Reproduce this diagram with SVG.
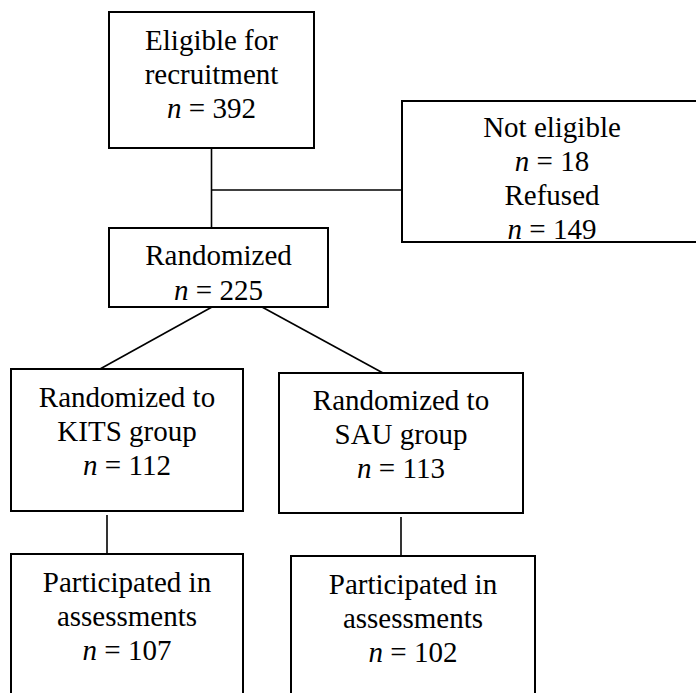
<svg xmlns="http://www.w3.org/2000/svg" width="696" height="693" viewBox="0 0 696 693">
<rect width="696" height="693" fill="#fff"/>
<g id="connectors" fill="none" stroke="#000" stroke-width="1.6">
<line x1="211.5" y1="148" x2="211.5" y2="228"/>
<line x1="211.5" y1="190" x2="402" y2="190"/>
<line x1="212" y1="307" x2="100" y2="369"/>
<line x1="262" y1="307" x2="383" y2="373"/>
<line x1="107" y1="515" x2="107" y2="554"/>
<line x1="401" y1="517" x2="401" y2="556"/>
</g>
<g id="eligible">
<rect x="109" y="12" width="205" height="136" fill="#fff" stroke="#000" stroke-width="2"/>
<text x="211.5" y="50" font-family="'Liberation Serif'" font-size="29" text-anchor="middle">Eligible for</text>
<text x="211.5" y="84" font-family="'Liberation Serif'" font-size="29" text-anchor="middle">recruitment</text>
<text x="211.5" y="118" font-family="'Liberation Serif'" font-size="29" text-anchor="middle"><tspan font-style="italic">n</tspan> = 392</text>
</g>
<g id="excluded">
<rect x="402" y="101" width="300" height="141" fill="#fff" stroke="#000" stroke-width="2"/>
<text x="552" y="137" font-family="'Liberation Serif'" font-size="29" text-anchor="middle">Not eligible</text>
<text x="552" y="171" font-family="'Liberation Serif'" font-size="29" text-anchor="middle"><tspan font-style="italic">n</tspan> = 18</text>
<text x="552" y="205" font-family="'Liberation Serif'" font-size="29" text-anchor="middle">Refused</text>
<text x="552" y="239" font-family="'Liberation Serif'" font-size="29" text-anchor="middle"><tspan font-style="italic">n</tspan> = 149</text>
</g>
<g id="randomized">
<rect x="109" y="228" width="219" height="79" fill="#fff" stroke="#000" stroke-width="2"/>
<text x="218.5" y="265" font-family="'Liberation Serif'" font-size="29" text-anchor="middle">Randomized</text>
<text x="218.5" y="300" font-family="'Liberation Serif'" font-size="29" text-anchor="middle"><tspan font-style="italic">n</tspan> = 225</text>
</g>
<g id="kits">
<rect x="11" y="369" width="232" height="142" fill="#fff" stroke="#000" stroke-width="2"/>
<text x="127" y="407" font-family="'Liberation Serif'" font-size="29" text-anchor="middle">Randomized to</text>
<text x="127" y="441" font-family="'Liberation Serif'" font-size="29" text-anchor="middle">KITS group</text>
<text x="127" y="475" font-family="'Liberation Serif'" font-size="29" text-anchor="middle"><tspan font-style="italic">n</tspan> = 112</text>
</g>
<g id="sau">
<rect x="279" y="373" width="244" height="140" fill="#fff" stroke="#000" stroke-width="2"/>
<text x="401" y="410" font-family="'Liberation Serif'" font-size="29" text-anchor="middle">Randomized to</text>
<text x="401" y="444" font-family="'Liberation Serif'" font-size="29" text-anchor="middle">SAU group</text>
<text x="401" y="478" font-family="'Liberation Serif'" font-size="29" text-anchor="middle"><tspan font-style="italic">n</tspan> = 113</text>
</g>
<g id="kits_assess">
<rect x="11" y="554" width="232" height="150" fill="#fff" stroke="#000" stroke-width="2"/>
<text x="127" y="592" font-family="'Liberation Serif'" font-size="29" text-anchor="middle">Participated in</text>
<text x="127" y="626" font-family="'Liberation Serif'" font-size="29" text-anchor="middle">assessments</text>
<text x="127" y="660" font-family="'Liberation Serif'" font-size="29" text-anchor="middle"><tspan font-style="italic">n</tspan> = 107</text>
</g>
<g id="sau_assess">
<rect x="291" y="556" width="244" height="150" fill="#fff" stroke="#000" stroke-width="2"/>
<text x="413" y="594" font-family="'Liberation Serif'" font-size="29" text-anchor="middle">Participated in</text>
<text x="413" y="628" font-family="'Liberation Serif'" font-size="29" text-anchor="middle">assessments</text>
<text x="413" y="662" font-family="'Liberation Serif'" font-size="29" text-anchor="middle"><tspan font-style="italic">n</tspan> = 102</text>
</g>
</svg>
